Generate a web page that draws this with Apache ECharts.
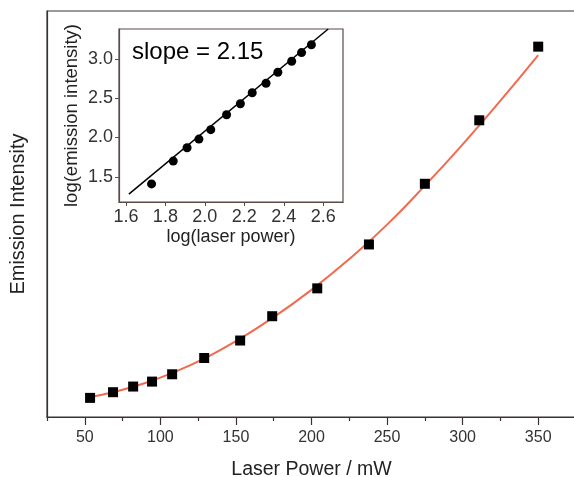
<!DOCTYPE html>
<html>
<head>
<meta charset="utf-8">
<script src="https://cdn.jsdelivr.net/npm/echarts@6/dist/echarts.min.js"></script>
<style>html,body{margin:0;padding:0;background:#fff}#c{width:574px;height:477px}</style>
</head>
<body>
<div id="c"></div>
<script>
// Main plot data
const laserPower = [53.5, 68.7, 82, 94.5, 107.8, 129, 152.8, 174, 203.8, 238, 275, 311, 350];
const emission = [26, 50, 74, 95, 126, 195, 269, 372, 490, 676, 933, 1202, 1514];
// Fitted curve
const fitX = [53.5, 70, 90, 110, 130, 150, 175, 200, 225, 250, 275, 300, 325, 350];
const fitY = [30, 52, 89, 137, 196, 266, 368, 484, 614, 760, 925, 1100, 1285, 1478];
const xTicks = [50, 100, 150, 200, 250, 300, 350];
const xMinorTicks = [25, 75, 125, 175, 225, 275, 325, 375];
// Inset data
const logPower = [1.73, 1.84, 1.91, 1.97, 2.03, 2.11, 2.18, 2.24, 2.31, 2.37, 2.44, 2.49, 2.54];
const logEmission = [1.41, 1.70, 1.87, 1.98, 2.10, 2.29, 2.43, 2.57, 2.69, 2.83, 2.97, 3.08, 3.18];
const lineX = [1.615, 2.625];
const lineY = [1.28, 3.38];
const insetXTicks = [1.6, 1.8, 2.0, 2.2, 2.4, 2.6];
const insetYTicks = [1.5, 2.0, 2.5, 3.0];

const font = 'Liberation Sans, Arial, sans-serif';
const axisCol = '#3a3232';
const insetCol = '#5a4a48';
const chart = echarts.init(document.getElementById('c'));
chart.setOption({
  animation: false,
  backgroundColor: '#fff',
  grid: [
    {left: 47, top: 11, right: -2, bottom: 60, containLabel: false, outerBoundsMode: 'none',
     show: true, borderColor: axisCol, borderWidth: 1.2, backgroundColor: 'transparent'},
    {left: 119, top: 29, width: 224, height: 173, containLabel: false, outerBoundsMode: 'none',
     show: true, borderColor: insetCol, borderWidth: 1.2, backgroundColor: '#fff'},
    {left: 47, top: 11, right: -2, bottom: 60, containLabel: false, outerBoundsMode: 'none', show: false}
  ],
  xAxis: [
    {type: 'value', gridIndex: 0, min: 25, max: 375,
     name: 'Laser Power / mW', nameLocation: 'middle', nameGap: 43,
     nameTextStyle: {fontFamily: font, fontSize: 19.5, color: '#222'},
     axisLine: {show: true, onZero: false, lineStyle: {color: axisCol, width: 1.2}},
     axisTick: {show: true, inside: false, customValues: xTicks, length: 8, lineStyle: {color: axisCol, width: 1.2}},
     axisLabel: {customValues: xTicks, fontFamily: font, fontSize: 16, color: '#333', margin: 13},
     splitLine: {show: false}},
    {type: 'value', gridIndex: 1, min: 1.565, max: 2.70,
     name: 'log(laser power)', nameLocation: 'middle', nameGap: 26,
     nameTextStyle: {fontFamily: font, fontSize: 18, color: '#222'},
     axisLine: {show: true, onZero: false, lineStyle: {color: insetCol, width: 1.2}},
     axisTick: {show: true, customValues: insetXTicks, length: 4, lineStyle: {color: insetCol}},
     axisLabel: {customValues: insetXTicks, formatter: v => v.toFixed(1), fontFamily: font, fontSize: 18, color: '#333', margin: 6},
     splitLine: {show: false}},
    {type: 'value', gridIndex: 2, min: 25, max: 375, position: 'bottom',
     axisLine: {show: false, onZero: false},
     axisTick: {show: true, inside: false, customValues: xMinorTicks, length: 4, lineStyle: {color: axisCol, width: 1.2}},
     axisLabel: {show: false}, splitLine: {show: false}}
  ],
  yAxis: [
    {type: 'value', gridIndex: 0, min: -55, max: 1665,
     name: 'Emission Intensity', nameLocation: 'middle', nameGap: 19, nameRotate: 90,
     nameTextStyle: {fontFamily: font, fontSize: 20, color: '#222'},
     axisLine: {show: true, onZero: false, lineStyle: {color: axisCol, width: 1.2}},
     axisTick: {show: false}, axisLabel: {show: false}, splitLine: {show: false}},
    {type: 'value', gridIndex: 1, min: 1.18, max: 3.38,
     name: 'log(emission intensity)', nameLocation: 'middle', nameGap: 38, nameRotate: 90,
     nameTextStyle: {fontFamily: font, fontSize: 18.5, color: '#222'},
     axisLine: {show: true, onZero: false, lineStyle: {color: insetCol, width: 1.2}},
     axisTick: {show: true, customValues: insetYTicks, length: 4, lineStyle: {color: insetCol}},
     axisLabel: {customValues: insetYTicks, formatter: v => v.toFixed(1), fontFamily: font, fontSize: 18, color: '#333', margin: 6},
     splitLine: {show: false}},
    {type: 'value', gridIndex: 2, min: -55, max: 1665, show: false}
  ],
  series: [
    {type: 'line', xAxisIndex: 0, yAxisIndex: 0, data: fitX.map((x, i) => [x, fitY[i]]),
     smooth: true, showSymbol: false, lineStyle: {color: '#f26a4e', width: 2}, z: 2},
    {type: 'scatter', xAxisIndex: 0, yAxisIndex: 0, data: laserPower.map((x, i) => [x, emission[i]]),
     symbol: 'rect', symbolSize: 10, itemStyle: {color: '#000', opacity: 1}, z: 3},
    {type: 'line', xAxisIndex: 1, yAxisIndex: 1, data: lineX.map((x, i) => [x, lineY[i]]),
     showSymbol: false, lineStyle: {color: '#000', width: 1.5}, z: 4},
    {type: 'scatter', xAxisIndex: 1, yAxisIndex: 1, data: logPower.map((x, i) => [x, logEmission[i]]),
     symbol: 'circle', symbolSize: 9, itemStyle: {color: '#000', opacity: 1}, z: 5}
  ],
  graphic: [
    {type: 'text', left: 132, top: 40, z: 10,
     style: {text: 'slope = 2.15', fontFamily: font, fontSize: 24, fill: '#000'}}
  ]
});
</script>
</body>
</html>
